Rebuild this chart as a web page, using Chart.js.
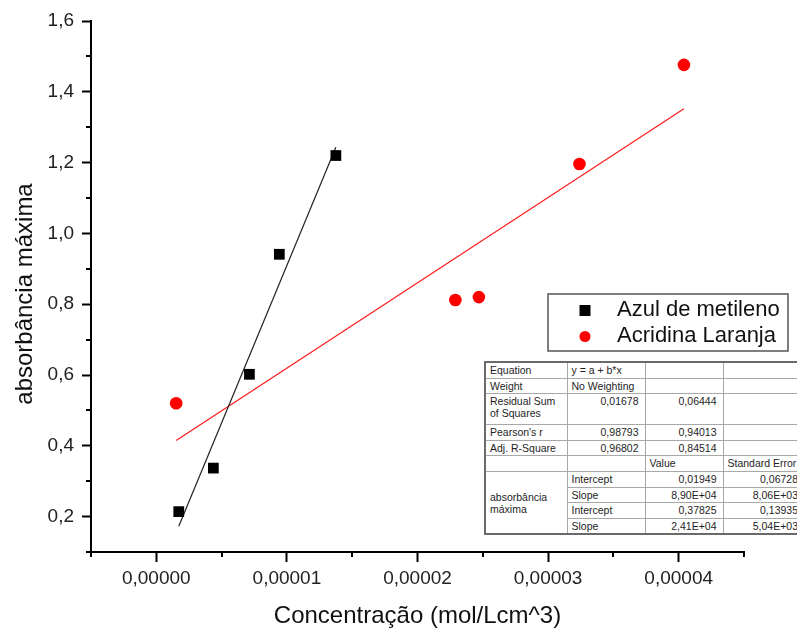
<!DOCTYPE html>
<html>
<head>
<meta charset="utf-8">
<script src="https://cdn.jsdelivr.net/npm/chart.js@4.4.1/dist/chart.umd.min.js"></script>
<style>
  html, body { margin: 0; padding: 0; background: #fff; overflow: hidden; }
  #wrap { position: relative; width: 797px; height: 628px; overflow: hidden; }
  #wrap canvas { display: block; }
  #fit {
    position: absolute; left: 484px; top: 361px; width: 320px;
    border-collapse: collapse; table-layout: fixed;
    font-family: "Liberation Sans", Arial, sans-serif; font-size: 10.5px; color: #1e1e1e;
    background: #fff; border: 2px solid #6a6a6a;
  }
  #fit td {
    border: 1px solid #a8a8a8; padding: 1px 4px 0 4px; vertical-align: top;
    line-height: 12px; white-space: nowrap; overflow: hidden; box-sizing: border-box;
  }
  #fit td.n { text-align: right; padding-right: 6px; }
  #fit td.grp { vertical-align: middle; }
</style>
</head>
<body>
<div id="wrap">
  <canvas id="c" width="797" height="628"></canvas>
  <table id="fit"></table>
</div>
<script>
// Measured absorbance peaks vs. concentration
const concAzul      = [1.72e-6, 4.37e-6, 7.13e-6, 9.42e-6, 1.375e-5];
const absAzul       = [0.214, 0.337, 0.602, 0.941, 1.22];
const concAcridina  = [1.52e-6, 2.29e-5, 2.47e-5, 3.24e-5, 4.04e-5];
const absAcridina   = [0.52, 0.812, 0.82, 1.196, 1.476];
const seriesNames   = ['Azul de metileno', 'Acridina Laranja'];

// Linear fit parameters (y = a + b*x)
const fitAzul       = { intercept: 0.01949, slope: 8.90e4 };
const fitAcridina   = { intercept: 0.37825, slope: 2.41e4 };

// Axis ticks and labels
const xMajorTicks = [0, 1e-5, 2e-5, 3e-5, 4e-5];
const xTickLabels = ['0,00000', '0,00001', '0,00002', '0,00003', '0,00004'];
const yMajorTicks = [0.2, 0.4, 0.6, 0.8, 1.0, 1.2, 1.4, 1.6];
const yTickLabels = ['0,2', '0,4', '0,6', '0,8', '1,0', '1,2', '1,4', '1,6'];
const xTitle = 'Concentração (mol/Lcm^3)';
const yTitle = 'absorbância máxima';

// Fit statistics table
const statHeader = [
  ['Equation', 'y = a + b*x', '', ''],
  ['Weight', 'No Weighting', '', ''],
  ['Residual Sum\nof Squares', '0,01678', '0,06444', ''],
  ["Pearson's r", '0,98793', '0,94013', ''],
  ['Adj. R-Square', '0,96802', '0,84514', ''],
  ['', '', 'Value', 'Standard Error']
];
const statGroup = 'absorbância\nmáxima';
const statParams = [
  ['Intercept', '0,01949', '0,06728'],
  ['Slope', '8,90E+04', '8,06E+03'],
  ['Intercept', '0,37825', '0,13935'],
  ['Slope', '2,41E+04', '5,04E+03']
];

// ---- table ----
(function buildTable() {
  const colW = [82, 78, 78, 82];
  const headH = [16, 15.6, 31, 15.7, 15.3, 15.7];
  const paramH = [16, 15.7, 15.6, 15.4];
  const t = document.getElementById('fit');
  const cg = document.createElement('colgroup');
  colW.forEach(w => { const c = document.createElement('col'); c.style.width = w + 'px'; cg.appendChild(c); });
  t.appendChild(cg);
  const esc = s => s.replace(/&/g, '&amp;').replace(/</g, '&lt;').replace(/\n/g, '<br>');
  const isNum = s => /^[0-9]/.test(s);
  statHeader.forEach((row, i) => {
    const tr = document.createElement('tr');
    tr.style.height = headH[i] + 'px';
    row.forEach((cell, j) => {
      const td = document.createElement('td');
      if (j > 0 && isNum(cell)) td.className = 'n';
      td.innerHTML = esc(cell);
      tr.appendChild(td);
    });
    t.appendChild(tr);
  });
  statParams.forEach((row, i) => {
    const tr = document.createElement('tr');
    tr.style.height = paramH[i] + 'px';
    if (i === 0) {
      const g = document.createElement('td');
      g.rowSpan = statParams.length;
      g.className = 'grp';
      g.innerHTML = esc(statGroup);
      tr.appendChild(g);
    }
    row.forEach((cell, j) => {
      const td = document.createElement('td');
      if (j > 0) td.className = 'n';
      td.innerHTML = esc(cell);
      tr.appendChild(td);
    });
    t.appendChild(tr);
  });
})();

// ---- chart ----
const FONT = "'Liberation Sans', Arial, sans-serif";
Chart.defaults.font.family = FONT;
Chart.defaults.color = '#222';

const near = (a, b) => Math.abs(a - b) < 1e-9;
const toXY = (xs, ys) => xs.map((x, i) => ({ x, y: ys[i] }));
const fitLine = (xs, f) => {
  const lo = Math.min(...xs), hi = Math.max(...xs);
  return [{ x: lo, y: f.intercept + f.slope * lo }, { x: hi, y: f.intercept + f.slope * hi }];
};
const isMajor = (v, majors) => majors.some(m => near(v, m));

// minor tick marks (shorter than the major ones) and the rotated y title
const axisDecor = {
  id: 'axisDecor',
  afterDraw(chart) {
    const ctx = chart.ctx;
    const xs = chart.scales.x, ys = chart.scales.y;
    const ca = chart.chartArea;
    ctx.save();
    ctx.strokeStyle = '#000';
    ctx.lineWidth = 2;
    ctx.beginPath();
    xs.ticks.forEach(t => {
      if (!isMajor(t.value, xMajorTicks)) {
        const px = Math.round(xs.getPixelForValue(t.value));
        ctx.moveTo(px, ca.bottom);
        ctx.lineTo(px, ca.bottom + 5);
      }
    });
    ys.ticks.forEach(t => {
      if (!isMajor(t.value, yMajorTicks)) {
        const py = Math.round(ys.getPixelForValue(t.value));
        ctx.moveTo(ca.left, py);
        ctx.lineTo(ca.left - 5, py);
      }
    });
    ctx.stroke();

    ctx.translate(25, 294);
    ctx.rotate(-Math.PI / 2);
    ctx.fillStyle = '#111';
    ctx.font = '24px ' + FONT;
    ctx.textAlign = 'center';
    ctx.textBaseline = 'middle';
    ctx.fillText(yTitle, 0, 0);
    ctx.restore();
  }
};

// boxed legend inside the plot
const boxLegend = {
  id: 'boxLegend',
  afterDraw(chart) {
    const ctx = chart.ctx;
    const box = { l: 548, t: 294, r: 788, b: 351 };
    ctx.save();
    ctx.fillStyle = '#fff';
    ctx.fillRect(box.l, box.t, box.r - box.l, box.b - box.t);
    ctx.strokeStyle = '#555';
    ctx.lineWidth = 1.5;
    ctx.strokeRect(box.l, box.t, box.r - box.l, box.b - box.t);
    const rows = [309.5, 335.5];
    chart.data.datasets.slice(0, 2).forEach((ds, i) => {
      const y = rows[i];
      ctx.fillStyle = ds.backgroundColor;
      if (ds.pointStyle === 'rect') {
        ctx.fillRect(585 - 5.5, y + 1 - 5.5, 11, 11);
      } else {
        ctx.beginPath();
        ctx.arc(585, y + 1, 5.5, 0, Math.PI * 2);
        ctx.fill();
      }
      ctx.fillStyle = '#111';
      ctx.font = '22px ' + FONT;
      ctx.textAlign = 'left';
      ctx.textBaseline = 'middle';
      ctx.fillText(ds.label, 617, y);
    });
    ctx.restore();
  }
};

new Chart(document.getElementById('c'), {
  type: 'scatter',
  data: {
    datasets: [
      {
        label: seriesNames[0],
        data: toXY(concAzul, absAzul),
        pointStyle: 'rect', pointRadius: 7.6, pointHoverRadius: 7.6,
        backgroundColor: '#000', borderColor: '#000', borderWidth: 0
      },
      {
        label: seriesNames[1],
        data: toXY(concAcridina, absAcridina),
        pointStyle: 'circle', pointRadius: 6.3, pointHoverRadius: 6.3,
        backgroundColor: '#ff0000', borderColor: '#ff0000', borderWidth: 0
      },
      {
        label: 'fit ' + seriesNames[0],
        data: fitLine(concAzul, fitAzul),
        showLine: true, pointRadius: 0, borderColor: '#222', borderWidth: 1.2
      },
      {
        label: 'fit ' + seriesNames[1],
        data: fitLine(concAcridina, fitAcridina),
        showLine: true, pointRadius: 0, borderColor: '#ff1a1a', borderWidth: 1.2
      }
    ]
  },
  options: {
    responsive: false,
    animation: false,
    layout: { padding: { top: 21, right: 53, left: 0, bottom: 0 } },
    plugins: { legend: { display: false }, tooltip: { enabled: false } },
    scales: {
      x: {
        type: 'linear', min: -5e-6, max: 4.5e-5,
        afterFit(s) { s.height = 76; },
        border: { display: true, color: '#000', width: 2 },
        grid: {
          drawOnChartArea: false, drawTicks: true, tickLength: 10, tickWidth: 2,
          tickColor: c => isMajor(c.tick.value, xMajorTicks) ? '#000' : 'rgba(0,0,0,0)'
        },
        ticks: {
          stepSize: 5e-6, autoSkip: false, maxRotation: 0, padding: 5,
          font: { size: 19 }, color: '#222',
          callback: v => { const i = xMajorTicks.findIndex(m => near(v, m)); return i < 0 ? '' : xTickLabels[i]; }
        },
        title: { display: true, text: xTitle, color: '#111', font: { size: 24, lineHeight: 1 }, padding: { top: 0, bottom: 0 } }
      },
      y: {
        type: 'linear', min: 0.1, max: 1.6,
        afterFit(s) { s.width = 91; },
        border: { display: true, color: '#000', width: 2 },
        grid: {
          drawOnChartArea: false, drawTicks: true, tickLength: 9, tickWidth: 2,
          tickColor: c => isMajor(c.tick.value, yMajorTicks) ? '#000' : 'rgba(0,0,0,0)'
        },
        ticks: {
          stepSize: 0.1, autoSkip: false, padding: 8,
          font: { size: 19 }, color: '#222',
          callback: v => { const i = yMajorTicks.findIndex(m => near(v, m)); return i < 0 ? '' : yTickLabels[i]; }
        }
      }
    }
  },
  plugins: [axisDecor, boxLegend]
});
</script>
</body>
</html>
